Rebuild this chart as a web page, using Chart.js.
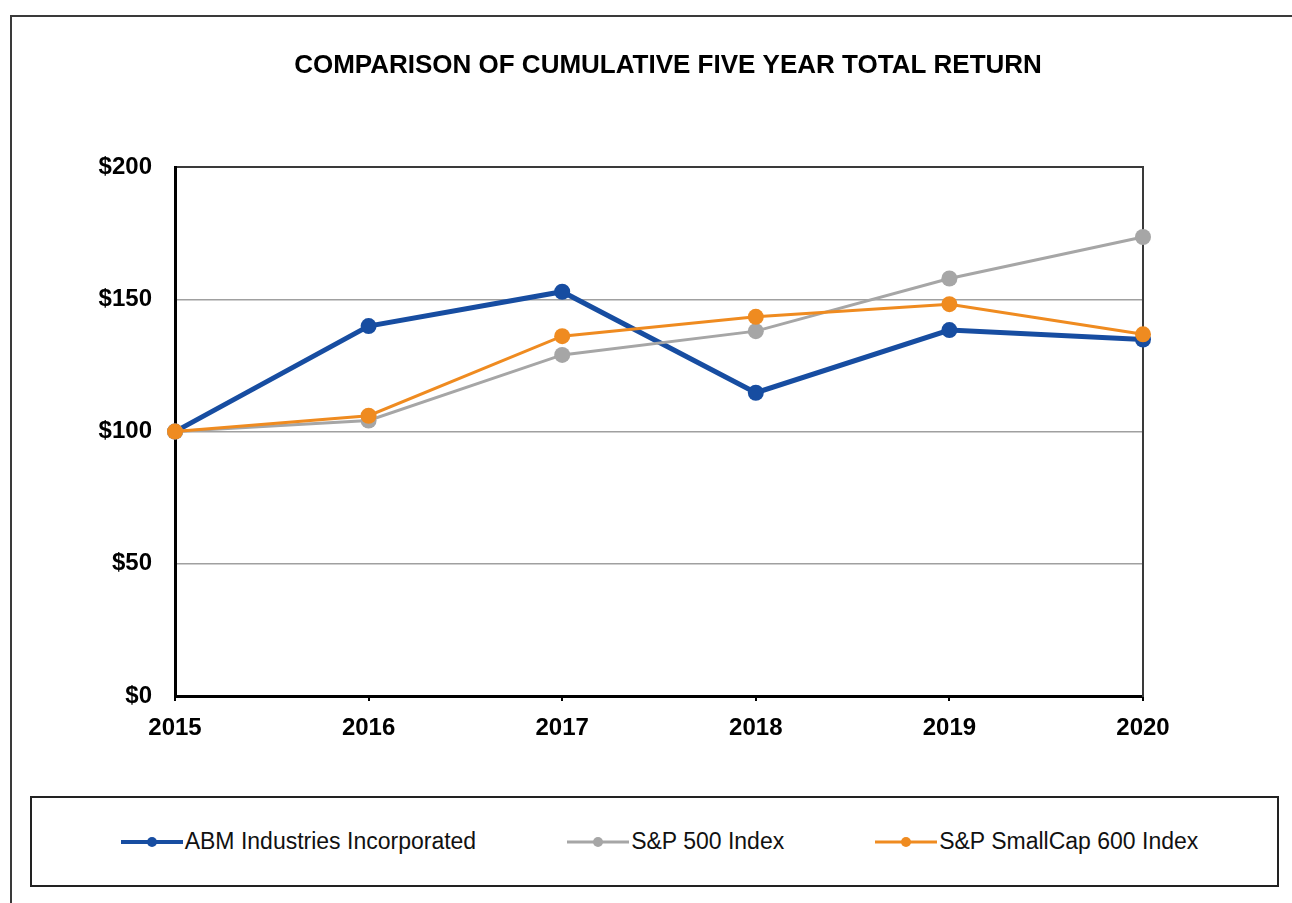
<!DOCTYPE html>
<html>
<head>
<meta charset="utf-8">
<script src="https://cdn.jsdelivr.net/npm/chart.js@4/dist/chart.umd.min.js"></script>
<style>
  html, body { margin: 0; padding: 0; background: #ffffff; width: 1292px; height: 903px; overflow: hidden; }
  #frame { position: absolute; left: 10px; top: 15px; width: 1300px; height: 900px;
           border-left: 2px solid #3a3a3a; border-top: 2px solid #3a3a3a; box-sizing: border-box; }
  #c { position: absolute; left: 0; top: 0; }
  #legend { position: absolute; left: 30px; top: 796px; width: 1249px; height: 91px; box-sizing: border-box;
            padding-left: 10px;
            border: 2px solid #222; display: flex; align-items: center; justify-content: center; gap: 91px;
            font-family: "Liberation Sans", Arial, sans-serif; font-size: 23px; color: #111; }
  .item { display: flex; align-items: center; white-space: nowrap; }
  .mk { position: relative; width: 62px; height: 12px; margin-right: 2px; }
  .mk .ln { position: absolute; left: 0; right: 0; top: 50%; transform: translateY(-50%); }
  .mk .dt { position: absolute; left: 50%; top: 50%; width: 10px; height: 10px; border-radius: 50%;
            transform: translate(-50%, -50%); }
</style>
</head>
<body>
<div id="frame"></div>
<canvas id="c" width="1500" height="790"></canvas>
<div id="legend"></div>
<script>
const title = "COMPARISON OF CUMULATIVE FIVE YEAR TOTAL RETURN";
const years = ["2015", "2016", "2017", "2018", "2019", "2020"];
const abm = [100, 139.9, 152.9, 114.7, 138.4, 134.8];
const sp500 = [100, 104.2, 129.0, 138.0, 157.9, 173.6];
const smallcap = [100, 106.0, 136.1, 143.4, 148.2, 136.8];
const seriesNames = ["ABM Industries Incorporated", "S&P 500 Index", "S&P SmallCap 600 Index"];
const seriesColors = ["#174da1", "#a6a6a6", "#ef8b20"];
const yTicks = [0, 50, 100, 150, 200];

const lineWidths = [5, 3, 3];
const pointRadii = [8, 8, 8];
const seriesData = [abm, sp500, smallcap];

const datasets = seriesData.map((d, i) => ({
  label: seriesNames[i],
  data: d,
  yAxisID: 'y',
  borderColor: seriesColors[i],
  backgroundColor: seriesColors[i],
  pointBackgroundColor: seriesColors[i],
  pointBorderColor: seriesColors[i],
  borderWidth: lineWidths[i],
  pointRadius: pointRadii[i],
  pointBorderWidth: 0,
  tension: 0,
  clip: false,
  order: 3 - i
}));

Chart.defaults.font.family = '"Liberation Sans", Arial, sans-serif';
Chart.defaults.color = '#000';

new Chart(document.getElementById('c'), {
  type: 'line',
  data: { labels: years, datasets },
  options: {
    responsive: false,
    animation: false,
    devicePixelRatio: 1,
    layout: { padding: { left: 0, right: 164, top: 0, bottom: 0 } },
    plugins: {
      legend: { display: false },
      tooltip: { enabled: false },
      title: {
        display: true,
        text: title,
        fullSize: true,
        color: '#000',
        font: { size: 26, weight: 'bold' },
        padding: { top: 50, bottom: 86 }
      }
    },
    scales: {
      x: {
        type: 'category',
        offset: false,
        afterFit(scale) { scale.height = 94; },
        grid: { drawOnChartArea: false, drawTicks: true, tickLength: 5, color: '#000', lineWidth: 2 },
        border: { display: true, color: '#000', width: 3 },
        ticks: { font: { size: 24, weight: 'bold' }, color: '#000', padding: 13, maxRotation: 0, autoSkip: false }
      },
      y: {
        min: 0,
        max: 200,
        afterFit(scale) { scale.width = 175; },
        afterBuildTicks(scale) { scale.ticks = yTicks.map(v => ({ value: v })); },
        grid: {
          drawTicks: false,
          color: (c) => c.tick && c.tick.value === 200 ? '#3a3a3a' : (c.tick && c.tick.value === 0 ? 'rgba(0,0,0,0)' : '#a0a0a0'),
          lineWidth: (c) => c.tick && c.tick.value === 200 ? 2 : 1.5
        },
        border: { display: true, color: '#000', width: 3 },
        ticks: { font: { size: 24, weight: 'bold' }, color: '#000', padding: 23, callback: (v) => '$' + v }
      },
      yRight: {
        type: 'linear',
        position: 'right',
        display: true,
        min: 0,
        max: 200,
        afterFit(scale) { scale.width = 193; },
        grid: { display: true, drawOnChartArea: false, drawTicks: false },
        border: { display: true, color: '#3a3a3a', width: 2 },
        ticks: { display: false }
      }
    }
  }
});

// HTML legend built from the series arrays
const legendEl = document.getElementById('legend');
seriesNames.forEach((name, i) => {
  const item = document.createElement('div');
  item.className = 'item';
  const mk = document.createElement('span');
  mk.className = 'mk';
  const ln = document.createElement('span');
  ln.className = 'ln';
  ln.style.height = (i === 0 ? 4 : 3) + 'px';
  ln.style.background = seriesColors[i];
  const dt = document.createElement('span');
  dt.className = 'dt';
  dt.style.background = seriesColors[i];
  mk.appendChild(ln); mk.appendChild(dt);
  const tx = document.createElement('span');
  tx.textContent = name;
  item.appendChild(mk); item.appendChild(tx);
  legendEl.appendChild(item);
});
</script>
</body>
</html>
